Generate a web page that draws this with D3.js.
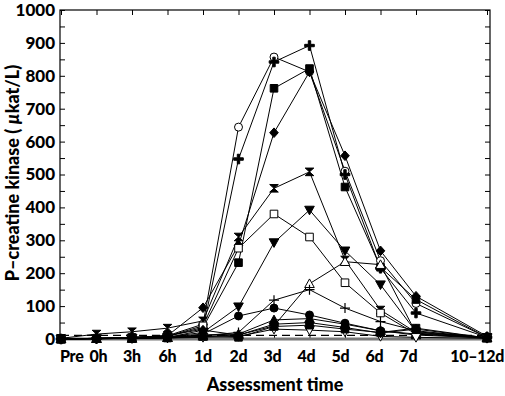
<!DOCTYPE html>
<html>
<head>
<meta charset="utf-8">
<script src="https://cdn.jsdelivr.net/npm/d3@7"></script>
<style>
  body { margin: 0; background: #fff; }
  text { font-family: Lato, "Open Sans", sans-serif; font-weight: 900; fill: #000; }
</style>
</head>
<body>
<div id="chart"></div>
<script>
// categories on the x axis (10-12d sits two slots after 7d)
const categories = ['Pre', '0h', '3h', '6h', '1d', '2d', '3d', '4d', '5d', '6d', '7d', '10–12d'];
const catIndex = [0, 1, 2, 3, 4, 5, 6, 7, 8, 9, 10, 12];
const yTicks = [0, 100, 200, 300, 400, 500, 600, 700, 800, 900, 1000];

// one array per patient, values in µkat/L
const openCircle    = [0, 2, 5, 10, 45, 644, 857, 812, 510, 238, 108, 5];
const boldPlus      = [0, 2, 5, 10, 30, 547, 842, 892, 500, 215, 79, 5];
const filledSquare  = [0, 2, 4, 8, 35, 232, 762, 822, 462, 218, 120, 5];
const filledDiamond = [0, 2, 4, 10, 95, 285, 627, 812, 557, 268, 130, 8];
const bowtie        = [2, 15, 22, 33, 55, 310, 458, 508, 240, 88, 20, 5];
const openSquare    = [0, 2, 4, 8, 40, 276, 380, 310, 171, 79, 15, 5];
const filledDown    = [0, 1, 3, 6, 20, 98, 293, 392, 268, 165, 22, 5];
const openTriangle  = [0, 1, 2, 4, 8, 12, 40, 168, 235, 226, 18, 3];
const thinPlus      = [0, 1, 2, 5, 10, 20, 118, 150, 94, 53, 25, 3];
const filledCircle  = [0, 2, 3, 5, 15, 70, 94, 73, 48, 25, 15, 3];
const filledTri     = [0, 1, 2, 4, 12, 15, 58, 62, 45, 25, 12, 3];
const openDown      = [0, 1, 2, 3, 5, 8, 30, 27, 22, 8, 5, 2];
const smallDiamond  = [0, 1, 2, 4, 27, 12, 45, 50, 35, 18, 30, 3];
const smallSquare   = [0, 1, 1, 3, 8, 5, 38, 42, 30, 20, 33, 3];
const refLimit = 5;

const series = [
  { values: openCircle, shape: 'circle', fill: '#fff' },
  { values: boldPlus, shape: 'boldplus', fill: '#000' },
  { values: filledSquare, shape: 'square', fill: '#000' },
  { values: filledDiamond, shape: 'diamond', fill: '#000' },
  { values: bowtie, shape: 'bowtie', fill: '#000' },
  { values: openSquare, shape: 'square', fill: '#fff' },
  { values: filledDown, shape: 'down', fill: '#000' },
  { values: openTriangle, shape: 'up', fill: '#fff' },
  { values: thinPlus, shape: 'plus', fill: 'none' },
  { values: filledCircle, shape: 'circle', fill: '#000' },
  { values: filledTri, shape: 'up', fill: '#000' },
  { values: openDown, shape: 'down', fill: '#fff' },
  { values: smallDiamond, shape: 'diamond', fill: '#000' },
  { values: smallSquare, shape: 'square', fill: '#000' }
];

const width = 505, height = 396;
const margin = { top: 10, right: 15, bottom: 57, left: 60 };

const svg = d3.select('#chart').append('svg')
  .attr('width', width)
  .attr('height', height);

const x = d3.scaleLinear().domain([0, 12]).range([61, 487]);
const y = d3.scaleLinear().domain([0, 1000]).range([height - margin.bottom, margin.top]);
const x0 = margin.left, x1 = width - margin.right;

// minor ticks every 50, inward, on both sides
const minor = d3.range(0, 1001, 50);
svg.append('g')
  .attr('transform', `translate(${x0},0)`)
  .call(d3.axisRight(y).tickValues(minor).tickSize(5).tickFormat(''))
  .call(g => g.select('.domain').remove());
svg.append('g')
  .attr('transform', `translate(${x1},0)`)
  .call(d3.axisLeft(y).tickValues(minor).tickSize(5).tickFormat(''))
  .call(g => g.select('.domain').remove());

// y labels
svg.append('g')
  .attr('transform', `translate(${x0},0)`)
  .call(d3.axisLeft(y).tickValues(yTicks).tickSize(0).tickPadding(5).tickFormat(d3.format('d')))
  .call(g => g.select('.domain').remove())
  .selectAll('text')
  .style('font-size', '17px');

// x ticks top and bottom
svg.append('g')
  .attr('transform', `translate(0,${margin.top})`)
  .call(d3.axisBottom(x).tickValues(catIndex).tickSize(5).tickFormat(''))
  .call(g => g.select('.domain').remove());
svg.append('g')
  .attr('transform', `translate(0,${y(0)})`)
  .call(d3.axisTop(x).tickValues(catIndex).tickSize(4).tickFormat(''))
  .call(g => g.select('.domain').remove());

svg.append('g').selectAll('text')
  .data(categories)
  .join('text')
  .attr('x', (d, i) => i === 0 ? x0 : i === categories.length - 1 ? width - 1 : x(catIndex[i]) + (i === 1 ? 2 : 0) - Math.max(0, i - 5) * 1.5)
  .attr('y', y(0) + 23)
  .attr('text-anchor', (d, i) => i === 0 ? 'start' : i === categories.length - 1 ? 'end' : 'middle')
  .style('font-size', '16px')
  .style('letter-spacing', '-0.3px')
  .text(d => d);

// frame
svg.append('rect')
  .attr('x', x0).attr('y', margin.top)
  .attr('width', x1 - x0).attr('height', y(0) - margin.top)
  .attr('fill', 'none').attr('stroke', '#000').attr('stroke-width', 1.2);

// baseline and reference limit
svg.append('line')
  .attr('x1', x(0)).attr('x2', x(12))
  .attr('y1', y(0)).attr('y2', y(0))
  .attr('stroke', '#777').attr('stroke-width', 3);
svg.append('line')
  .attr('x1', x(0)).attr('x2', x(12))
  .attr('y1', y(refLimit) - 2).attr('y2', y(refLimit) - 2)
  .attr('stroke', '#000').attr('stroke-width', 1.2)
  .attr('stroke-dasharray', '8,5');

const line = d3.line()
  .x((d, i) => x(catIndex[i]))
  .y(d => y(d));

const lines = svg.append('g');
series.forEach(s => {
  lines.append('path')
    .attr('d', line(s.values))
    .attr('fill', 'none')
    .attr('stroke', '#000')
    .attr('stroke-width', 1);
});

function shapePath(shape) {
  switch (shape) {
    case 'circle': return 'M4,0A4,4,0,1,1,-4,0A4,4,0,1,1,4,0Z';
    case 'square': return 'M-3.8,-3.8H3.8V3.8H-3.8Z';
    case 'diamond': return 'M0,-4.8L4.3,0L0,4.8L-4.3,0Z';
    case 'up': return 'M0,-4.8L4.8,3.8H-4.8Z';
    case 'down': return 'M0,4.8L4.8,-3.8H-4.8Z';
    case 'bowtie': return 'M-4.3,-3.8L4.3,-3.8L-4.3,3.8L4.3,3.8Z';
    case 'boldplus': return 'M-1.2,-4.8H1.2V-1.2H4.8V1.2H1.2V4.8H-1.2V1.2H-4.8V-1.2H-1.2Z';
    case 'plus': return 'M0,-5V5M-5,0H5';
  }
}

const marks = svg.append('g');
series.forEach(s => {
  marks.selectAll(null)
    .data(s.values)
    .join('path')
    .attr('transform', (d, i) => `translate(${x(catIndex[i])},${y(d)})`)
    .attr('d', shapePath(s.shape))
    .attr('fill', s.fill)
    .attr('stroke', '#000')
    .attr('stroke-width', s.shape === 'plus' ? 1.2 : 1);
});

// axis titles
svg.append('text')
  .attr('x', 275).attr('y', 391)
  .attr('text-anchor', 'middle')
  .style('font-size', '18px')
  .text('Assessment time');

svg.append('text')
  .attr('transform', 'translate(19,173) rotate(-90)')
  .attr('text-anchor', 'middle')
  .style('font-size', '18px')
  .html('P–creatine kinase ( <tspan font-style="italic">µ</tspan>kat/L)');
</script>
</body>
</html>
